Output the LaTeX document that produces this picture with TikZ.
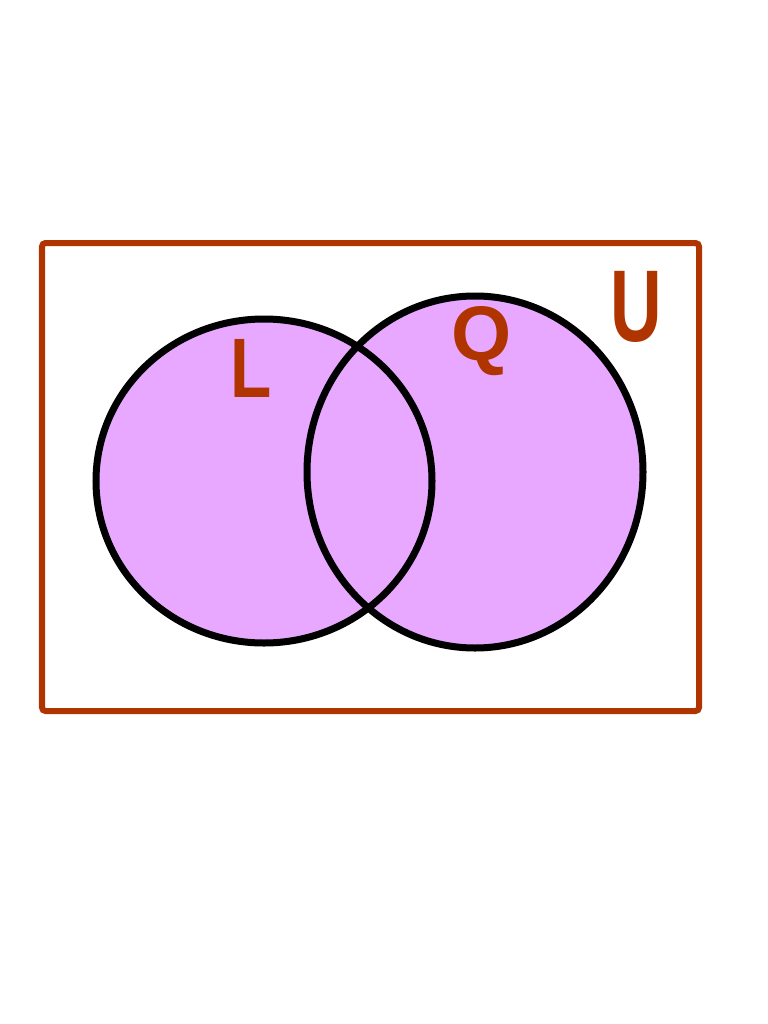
\documentclass[tikz,border=0pt]{standalone}
\usepackage{fontspec}
\setmainfont{Liberation Sans}
\usepackage{tikz}
\definecolor{rust}{RGB}{176,52,0}
\definecolor{lilac}{RGB}{232,168,255}

\begin{document}
\begin{tikzpicture}[x=0.01cm,y=-0.01cm]
\tikzset{setlabel/.style={text=rust, font=\bfseries, inner sep=0pt}}
    % 页面大小
    \useasboundingbox (0,0) rectangle (768,1024);

    % 全集
    \draw[rust, line width=0.06cm, rounded corners=1pt] (42,243) rectangle (699,711);

    % 两个集合的填充
    \fill[lilac] (264,481) ellipse [x radius=168, y radius=162];
    \fill[lilac] (475,472) ellipse [x radius=168, y radius=176];

    % 边界
    \draw[black, line width=0.07cm] (264,481) ellipse [x radius=168, y radius=162];
    \draw[black, line width=0.07cm] (475,472) ellipse [x radius=168, y radius=176];

    \node[setlabel, xscale=0.8, font=\fontsize{24}{24}\selectfont\bfseries] (L) at (251,368) {L};
    \node[setlabel, font=\fontsize{22}{22}\selectfont\bfseries] (Q) at (482,341) {Q};
    \node[setlabel, xscale=0.7, font=\fontsize{29}{29}\selectfont\bfseries] (U) at (636,307) {U};

\end{tikzpicture}
\end{document}
